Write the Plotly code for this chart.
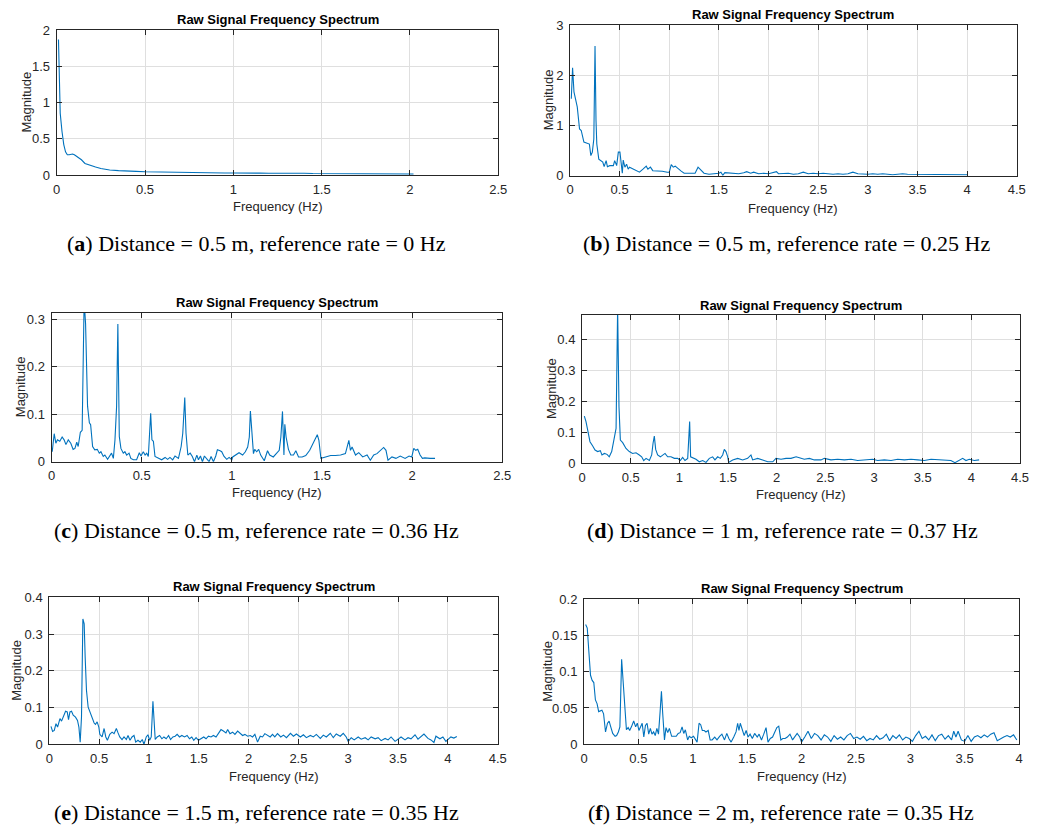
import plotly.graph_objects as go

# ---------------- data ----------------
freq_a = [0.01, 0.015, 0.02, 0.03, 0.04, 0.05, 0.06, 0.07, 0.08, 0.09, 0.10, 0.12, 0.14, 0.16, 0.18,
          0.20, 0.22, 0.25, 0.28, 0.30, 0.35, 0.40, 0.45, 0.50, 0.55, 0.60, 0.65, 0.70, 0.75, 0.80,
          0.85, 0.90, 0.95, 1.00, 1.05, 1.10, 1.15, 1.20, 1.25, 1.30, 1.35, 1.40, 1.45, 1.50, 1.55,
          1.60, 1.65, 1.70, 1.75, 1.80, 1.85, 1.90, 1.95, 2.00, 2.02]
mag_a = [1.87, 1.20, 0.85, 0.60, 0.42, 0.32, 0.28, 0.28, 0.29, 0.29, 0.28, 0.25, 0.21, 0.16, 0.14,
         0.13, 0.11, 0.09, 0.075, 0.07, 0.06, 0.05, 0.05, 0.045, 0.042, 0.04, 0.038, 0.035, 0.033, 0.03,
         0.031, 0.03, 0.027, 0.028, 0.03, 0.03, 0.026, 0.025, 0.027, 0.024, 0.022, 0.025, 0.02, 0.02, 0.022,
         0.02, 0.019, 0.018, 0.02, 0.018, 0.017, 0.016, 0.017, 0.015, 0.014]

freq_b = [0.013, 0.026, 0.04, 0.073, 0.096, 0.113, 0.14, 0.17, 0.195, 0.21, 0.225, 0.24, 0.252, 0.262,
          0.27, 0.29, 0.31, 0.33, 0.344, 0.364, 0.377, 0.40, 0.437, 0.45, 0.47, 0.487, 0.503, 0.52,
          0.527, 0.536, 0.553, 0.57, 0.586, 0.60, 0.636, 0.67, 0.70, 0.735, 0.768, 0.785, 0.81, 0.834,
          0.884, 0.93, 0.98, 1.0, 1.02, 1.04, 1.06, 1.08, 1.12, 1.15, 1.20, 1.26, 1.29, 1.31, 1.35,
          1.40, 1.50, 1.52, 1.54, 1.56, 1.60, 1.65, 1.70, 1.75, 1.78, 1.82, 1.85, 1.90, 1.95, 2.00,
          2.05, 2.08, 2.10, 2.15, 2.20, 2.25, 2.30, 2.35, 2.40, 2.45, 2.50, 2.55, 2.60, 2.65, 2.70,
          2.75, 2.80, 2.85, 2.90, 2.95, 3.00, 3.05, 3.10, 3.15, 3.20, 3.25, 3.30, 3.35, 3.40, 3.45,
          3.50, 3.55, 3.60, 3.65, 3.70, 3.75, 3.80, 3.85, 3.90, 3.95, 4.00]
mag_b = [1.53, 2.15, 1.67, 1.37, 0.93, 0.90, 0.67, 0.65, 0.63, 0.40, 0.47, 0.73, 2.58, 1.10,
         0.63, 0.33, 0.30, 0.27, 0.18, 0.30, 0.18, 0.20, 0.20, 0.30, 0.20, 0.47, 0.47, 0.17,
         0.05, 0.31, 0.17, 0.23, 0.13, 0.17, 0.13, 0.10, 0.07, 0.13, 0.19, 0.13, 0.17, 0.10,
         0.10, 0.09, 0.07, 0.07, 0.22, 0.17, 0.19, 0.15, 0.09, 0.05, 0.05, 0.05, 0.17, 0.13, 0.05,
         0.03, 0.05, 0.07, 0.01, 0.06, 0.05, 0.05, 0.04, 0.06, 0.08, 0.05, 0.07, 0.04, 0.05, 0.04,
         0.06, 0.08, 0.04, 0.05, 0.05, 0.03, 0.04, 0.07, 0.04, 0.05, 0.04, 0.05, 0.04, 0.03, 0.04,
         0.03, 0.04, 0.07, 0.04, 0.03, 0.03, 0.04, 0.03, 0.04, 0.03, 0.02, 0.03, 0.04, 0.03, 0.03,
         0.02, 0.03, 0.025, 0.03, 0.025, 0.02, 0.03, 0.02, 0.025, 0.02, 0.02]

freq_c = [0.004, 0.015, 0.024, 0.033, 0.046, 0.059, 0.07, 0.08, 0.093, 0.107, 0.12, 0.13, 0.14, 0.148,
          0.16, 0.17, 0.181, 0.189, 0.20, 0.21, 0.217, 0.228, 0.24, 0.254, 0.265, 0.274, 0.287, 0.296,
          0.311, 0.324, 0.333, 0.343, 0.352, 0.361, 0.368, 0.376, 0.385, 0.398, 0.407, 0.417, 0.43,
          0.44, 0.454, 0.472, 0.487, 0.496, 0.509, 0.519, 0.528, 0.537, 0.543, 0.55, 0.557, 0.565,
          0.574, 0.593, 0.611, 0.63, 0.644, 0.657, 0.672, 0.685, 0.704, 0.719, 0.728, 0.739, 0.746,
          0.756, 0.769, 0.781, 0.793, 0.806, 0.815, 0.826, 0.837, 0.848, 0.861, 0.874, 0.885, 0.898,
          0.911, 0.92, 0.935, 0.944, 0.957, 0.972, 0.985, 1.0, 1.005, 1.024, 1.04, 1.06, 1.075, 1.088,
          1.097, 1.103, 1.11, 1.12, 1.127, 1.138, 1.149, 1.16, 1.18, 1.198, 1.21, 1.23, 1.244, 1.263,
          1.272, 1.281, 1.289, 1.294, 1.301, 1.314, 1.327, 1.342, 1.355, 1.37, 1.39, 1.41, 1.432,
          1.456, 1.474, 1.483, 1.494, 1.52, 1.548, 1.575, 1.603, 1.63, 1.64, 1.649, 1.658, 1.667,
          1.686, 1.704, 1.726, 1.75, 1.768, 1.787, 1.805, 1.823, 1.842, 1.855, 1.866, 1.888, 1.91,
          1.934, 1.961, 1.983, 1.998, 2.009, 2.02, 2.031, 2.044, 2.057, 2.07, 2.10, 2.127]
mag_c = [0.021, 0.059, 0.039, 0.046, 0.043, 0.052, 0.046, 0.036, 0.046, 0.039, 0.026, 0.028, 0.041, 0.032,
         0.062, 0.066, 0.34, 0.29, 0.117, 0.082, 0.078, 0.032, 0.025, 0.026, 0.018, 0.021, 0.011, 0.014,
         0.005, 0.014, 0.018, 0.007, 0.046, 0.117, 0.29, 0.053, 0.028, 0.018, 0.021, 0.014, 0.018,
         0.007, 0.004, 0.004, 0.019, 0.012, 0.021, 0.014, 0.018, 0.011, 0.046, 0.102, 0.046, 0.043,
         0.011, 0.007, 0.004, 0.009, 0.005, 0.009, 0.004, 0.012, 0.007, 0.032, 0.06, 0.135, 0.06,
         0.014, 0.018, 0.011, 0.0, 0.014, 0.004, 0.012, 0.0, 0.012, 0.007, 0.0, 0.011, 0.0,
         0.012, 0.025, 0.023, 0.021, 0.011, 0.005, 0.009, 0.004, 0.01, 0.014, 0.019, 0.014, 0.021, 0.031,
         0.052, 0.107, 0.066, 0.017, 0.026, 0.021, 0.026, 0.014, 0.002, 0.023, 0.014, 0.01, 0.016, 0.024,
         0.052, 0.106, 0.014, 0.079, 0.052, 0.026, 0.014, 0.014, 0.023, 0.01, 0.01, 0.013, 0.024,
         0.042, 0.057, 0.045, 0.007, 0.01, 0.013, 0.013, 0.014, 0.017, 0.031, 0.045, 0.024, 0.031,
         0.014, 0.019, 0.01, 0.014, 0.003, 0.014, 0.017, 0.023, 0.03, 0.024, 0.003, 0.01, 0.007,
         0.012, 0.007, 0.012, 0.01, 0.028, 0.024, 0.026, 0.014, 0.007, 0.008, 0.007, 0.007]

freq_d = [0.024, 0.041, 0.058, 0.082, 0.11, 0.134, 0.161, 0.188, 0.205, 0.23, 0.257, 0.28, 0.305, 0.332,
          0.35, 0.366, 0.38, 0.394, 0.418, 0.452, 0.486, 0.52, 0.555, 0.589, 0.613, 0.634, 0.658, 0.692,
          0.716, 0.73, 0.743, 0.757, 0.777, 0.805, 0.829, 0.853, 0.88, 0.914, 0.949, 0.983, 1.01, 1.034,
          1.058, 1.086, 1.096, 1.106, 1.116, 1.137, 1.171, 1.205, 1.24, 1.274, 1.308, 1.342, 1.366,
          1.394, 1.421, 1.445, 1.462, 1.479, 1.497, 1.507, 1.548, 1.60, 1.651, 1.702, 1.736, 1.753,
          1.805, 1.856, 1.908, 1.96, 1.993, 2.045, 2.096, 2.147, 2.20, 2.233, 2.284, 2.336, 2.387,
          2.455, 2.49, 2.558, 2.627, 2.695, 2.764, 2.832, 2.90, 2.986, 3.038, 3.106, 3.175, 3.243,
          3.312, 3.38, 3.449, 3.517, 3.586, 3.654, 3.723, 3.79, 3.832, 3.877, 3.911, 3.945, 3.979,
          4.03, 4.08]
mag_d = [0.152, 0.134, 0.107, 0.069, 0.055, 0.042, 0.037, 0.04, 0.026, 0.031, 0.028, 0.02, 0.037, 0.08,
         0.112, 0.50, 0.182, 0.074, 0.066, 0.047, 0.037, 0.031, 0.033, 0.026, 0.02, 0.008, 0.015, 0.008,
         0.026, 0.064, 0.087, 0.044, 0.026, 0.02, 0.026, 0.031, 0.02, 0.02, 0.015, 0.015, 0.008, 0.018,
         0.008, 0.015, 0.074, 0.134, 0.02, 0.017, 0.012, 0.004, 0.008, 0.002, 0.015, 0.02, 0.01,
         0.02, 0.015, 0.026, 0.044, 0.037, 0.02, 0.002, 0.01, 0.015, 0.01, 0.015, 0.026, 0.01,
         0.015, 0.01, 0.004, 0.004, 0.015, 0.012, 0.015, 0.015, 0.02, 0.017, 0.012, 0.015, 0.01,
         0.01, 0.015, 0.01, 0.012, 0.01, 0.012, 0.008, 0.01, 0.012, 0.008, 0.01, 0.008, 0.012,
         0.01, 0.012, 0.01, 0.008, 0.012, 0.01, 0.008, 0.008, 0.001, 0.01, 0.015, 0.008, 0.012,
         0.008, 0.01]

freq_e = [0.017, 0.033, 0.05, 0.067, 0.083, 0.107, 0.123, 0.14, 0.163, 0.18, 0.193, 0.207, 0.223, 0.24,
          0.263, 0.283, 0.297, 0.31, 0.323, 0.337, 0.35, 0.36, 0.373, 0.39, 0.413, 0.433, 0.45, 0.463,
          0.48, 0.497, 0.507, 0.53, 0.55, 0.567, 0.583, 0.607, 0.63, 0.65, 0.673, 0.69, 0.707, 0.73,
          0.75, 0.773, 0.79, 0.81, 0.83, 0.85, 0.867, 0.89, 0.913, 0.933, 0.95, 0.973, 0.99, 1.007,
          1.023, 1.04, 1.05, 1.063, 1.083, 1.107, 1.13, 1.15, 1.173, 1.197, 1.217, 1.24, 1.263, 1.283,
          1.307, 1.33, 1.357, 1.383, 1.407, 1.43, 1.45, 1.473, 1.497, 1.523, 1.55, 1.573, 1.597, 1.623,
          1.647, 1.673, 1.697, 1.723, 1.747, 1.773, 1.79, 1.813, 1.84, 1.863, 1.89, 1.913, 1.94, 1.963,
          1.99, 2.017, 2.04, 2.063, 2.09, 2.117, 2.14, 2.163, 2.19, 2.217, 2.24, 2.263, 2.29, 2.323,
          2.35, 2.38, 2.42, 2.45, 2.48, 2.52, 2.55, 2.58, 2.62, 2.65, 2.68, 2.72, 2.75, 2.78, 2.82,
          2.85, 2.88, 2.92, 2.95, 2.98, 3.0, 3.03, 3.06, 3.1, 3.13, 3.17, 3.2, 3.23, 3.27, 3.3, 3.33,
          3.37, 3.4, 3.43, 3.47, 3.5, 3.53, 3.57, 3.6, 3.63, 3.67, 3.7, 3.73, 3.76, 3.8, 3.83, 3.86,
          3.88, 3.92, 3.95, 3.98, 4.0, 4.03, 4.06, 4.09]
mag_e = [0.049, 0.035, 0.038, 0.056, 0.047, 0.07, 0.063, 0.076, 0.09, 0.088, 0.067, 0.088, 0.09, 0.079,
         0.074, 0.065, 0.047, 0.006, 0.074, 0.341, 0.328, 0.237, 0.147, 0.101, 0.083, 0.07, 0.058, 0.054,
         0.061, 0.047, 0.027, 0.02, 0.043, 0.02, 0.011, 0.027, 0.033, 0.029, 0.043, 0.031, 0.02, 0.013,
         0.02, 0.013, 0.024, 0.011, 0.02, 0.024, 0.006, 0.011, 0.006, 0.013, 0.0, 0.02, 0.026, 0.011,
         0.02, 0.117, 0.056, 0.013, 0.02, 0.024, 0.015, 0.02, 0.015, 0.024, 0.013, 0.02, 0.022, 0.027,
         0.02, 0.024, 0.02, 0.024, 0.015, 0.02, 0.011, 0.018, 0.011, 0.015, 0.02, 0.015, 0.022, 0.02,
         0.024, 0.02, 0.029, 0.04, 0.036, 0.031, 0.04, 0.029, 0.033, 0.027, 0.036, 0.031, 0.024, 0.027,
         0.022, 0.024, 0.02, 0.027, 0.006, 0.022, 0.02, 0.029, 0.024, 0.02, 0.027, 0.02, 0.029, 0.02,
         0.025, 0.018, 0.03, 0.022, 0.028, 0.02, 0.026, 0.018, 0.024, 0.02, 0.027, 0.016, 0.025, 0.02, 0.03,
         0.018, 0.028, 0.022, 0.03, 0.02, 0.008, 0.018, 0.012, 0.02, 0.014, 0.018, 0.012, 0.02, 0.015, 0.018, 0.01,
         0.016, 0.012, 0.02, 0.008, 0.015, 0.02, 0.012, 0.018, 0.015, 0.026, 0.014, 0.02, 0.028, 0.016, 0.012, 0.005,
         0.022, 0.015, 0.02, 0.008, 0.012, 0.02, 0.017, 0.021]

freq_f = [0.015, 0.03, 0.045, 0.06, 0.075, 0.09, 0.105, 0.12, 0.135, 0.15, 0.165, 0.18, 0.198, 0.216,
          0.231, 0.246, 0.264, 0.286, 0.30, 0.316, 0.33, 0.346, 0.36, 0.376, 0.39, 0.406, 0.42, 0.436,
          0.457, 0.475, 0.49, 0.505, 0.52, 0.535, 0.55, 0.565, 0.58, 0.595, 0.61, 0.625, 0.64, 0.655,
          0.67, 0.685, 0.70, 0.712, 0.724, 0.74, 0.754, 0.77, 0.785, 0.806, 0.827, 0.848, 0.866, 0.884,
          0.902, 0.917, 0.932, 0.953, 0.968, 0.986, 1.007, 1.022, 1.04, 1.058, 1.073, 1.088, 1.106,
          1.121, 1.142, 1.16, 1.178, 1.202, 1.223, 1.247, 1.268, 1.292, 1.313, 1.332, 1.353, 1.377,
          1.398, 1.413, 1.425, 1.437, 1.458, 1.473, 1.491, 1.509, 1.527, 1.548, 1.569, 1.593, 1.61,
          1.632, 1.653, 1.674, 1.692, 1.713, 1.734, 1.755, 1.773, 1.791, 1.81, 1.828, 1.849, 1.87,
          1.894, 1.918, 1.94, 1.96, 1.984, 2.0, 2.03, 2.06, 2.09, 2.12, 2.15, 2.18, 2.21, 2.24, 2.27,
          2.3, 2.33, 2.36, 2.39, 2.42, 2.45, 2.48, 2.51, 2.54, 2.57, 2.6, 2.63, 2.66, 2.69, 2.72, 2.75,
          2.78, 2.81, 2.84, 2.87, 2.9, 2.93, 2.96, 2.99, 3.02, 3.05, 3.08, 3.11, 3.14, 3.17, 3.2, 3.23,
          3.26, 3.29, 3.32, 3.35, 3.38, 3.4, 3.42, 3.44, 3.47, 3.5, 3.53, 3.56, 3.59, 3.62, 3.65, 3.68,
          3.71, 3.74, 3.77, 3.8, 3.83, 3.86, 3.89, 3.92, 3.95, 3.98]
mag_f = [0.165, 0.16, 0.127, 0.095, 0.088, 0.085, 0.061, 0.056, 0.045, 0.046, 0.047, 0.042, 0.017, 0.029,
         0.032, 0.024, 0.015, 0.011, 0.012, 0.017, 0.024, 0.117, 0.088, 0.052, 0.02, 0.023, 0.019, 0.024,
         0.032, 0.024, 0.029, 0.019, 0.023, 0.029, 0.01, 0.026, 0.029, 0.014, 0.022, 0.014, 0.017, 0.012,
         0.022, 0.014, 0.045, 0.073, 0.042, 0.006, 0.023, 0.016, 0.022, 0.011, 0.011, 0.011, 0.015, 0.016,
         0.024, 0.015, 0.02, 0.006, 0.011, 0.009, 0.011, 0.008, 0.003, 0.029, 0.027, 0.019, 0.019,
         0.017, 0.019, 0.006, 0.006, 0.01, 0.006, 0.011, 0.014, 0.006, 0.015, 0.008, 0.003, 0.01,
         0.017, 0.029, 0.019, 0.029, 0.017, 0.012, 0.019, 0.01, 0.014, 0.008, 0.015, 0.01, 0.014,
         0.006, 0.014, 0.023, 0.003, 0.008, 0.01, 0.017, 0.023, 0.025, 0.006, 0.008, 0.008, 0.01,
         0.014, 0.006, 0.01, 0.015, 0.01, 0.003, 0.01, 0.018, 0.008, 0.015, 0.012, 0.006, 0.013, 0.01, 0.004,
         0.012, 0.007, 0.01, 0.006, 0.012, 0.015, 0.008, 0.01, 0.007, 0.011, 0.005, 0.008, 0.006, 0.012, 0.007, 0.009,
         0.014, 0.005, 0.012, 0.008, 0.013, 0.006, 0.01, 0.008, 0.004, 0.012, 0.018, 0.008, 0.011, 0.006, 0.013, 0.005,
         0.012, 0.014, 0.007, 0.012, 0.006, 0.018, 0.01, 0.018, 0.006, 0.004, 0.012, 0.004, 0.01, 0.012, 0.009, 0.013,
         0.01, 0.014, 0.016, 0.005, 0.008, 0.01, 0.012, 0.01, 0.013, 0.006]

panel_titles = ["Raw Signal Frequency Spectrum"] * 6
x_label = "Frequency (Hz)"
y_label = "Magnitude"
captions = [
    "(<b>a</b>) Distance = 0.5 m, reference rate = 0 Hz",
    "(<b>b</b>) Distance = 0.5 m, reference rate = 0.25 Hz",
    "(<b>c</b>) Distance = 0.5 m, reference rate = 0.36 Hz",
    "(<b>d</b>) Distance = 1 m, reference rate = 0.37 Hz",
    "(<b>e</b>) Distance = 1.5 m, reference rate = 0.35 Hz",
    "(<b>f</b>) Distance = 2 m, reference rate = 0.35 Hz",
]
x_ranges = [[0, 2.5], [0, 4.5], [0, 2.5], [0, 4.5], [0, 4.5], [0, 4]]
y_ranges = [[0, 2], [0, 3], [0, 0.314], [0, 0.479], [0, 0.4], [0, 0.2]]
y_dticks = [0.5, 1, 0.1, 0.1, 0.1, 0.05]

series = [(freq_a, mag_a), (freq_b, mag_b), (freq_c, mag_c),
          (freq_d, mag_d), (freq_e, mag_e), (freq_f, mag_f)]

# ---------------- layout geometry (page pixels) ----------------
OFF = 8                    # default page margin around the figure
W, H = 1052 - OFF, 825 - OFF


def px(x):
    return (x - OFF) / W


def py(y):
    return 1 - (y - OFF) / H


# plot boxes: left, right, top, bottom
boxes = [
    (56.7, 498.3, 30.0, 175.0),
    (570.0, 1016.7, 25.0, 175.7),
    (51.5, 502.3, 312.7, 461.7),
    (582.0, 1020.0, 315.0, 463.0),
    (49.3, 497.7, 597.3, 744.3),
    (584.0, 1019.0, 599.0, 744.3),
]
title_y = [19, 14, 302, 305, 586, 588]
xlab_y = [207, 209, 492, 494, 776, 776]
ylab_x = [26, 548, 20, 551, 17, 548]
cap_pos = [(257, 243), (786, 243), (256, 530), (782, 530), (256, 812), (781, 812)]

AX = "#262626"
GRID = "#dfdfdf"
LINE = "#0072BD"
SANS = "Liberation Sans, Arial, sans-serif"
SERIF = "Liberation Serif, Times New Roman, serif"

fig = go.Figure()
layout = dict(
    width=W, height=H, margin=dict(l=0, r=0, t=0, b=0, pad=0, autoexpand=False),
    paper_bgcolor="white", plot_bgcolor="white", showlegend=False,
    font=dict(family=SANS, size=13, color=AX),
)
annotations = []

for i, ((fx, my), (l, r, t, b)) in enumerate(zip(series, boxes)):
    n = "" if i == 0 else str(i + 1)
    fig.add_trace(go.Scatter(x=fx, y=my, mode="lines",
                             line=dict(color=LINE, width=1.1),
                             xaxis="x" + n, yaxis="y" + n, hoverinfo="skip"))
    common = dict(showline=True, linecolor=AX, linewidth=1, mirror="ticks",
                  ticks="inside", ticklen=5, tickcolor=AX, tickwidth=1,
                  showgrid=True, gridcolor=GRID, gridwidth=1, zeroline=False,
                  automargin=False,
                  tickfont=dict(family=SANS, size=13, color=AX))
    layout["xaxis" + n] = dict(common, domain=[px(l), px(r)], range=x_ranges[i],
                               dtick=0.5, tick0=0, anchor="y" + n,
                               ticklabelstandoff=2)
    layout["yaxis" + n] = dict(common, domain=[py(b), py(t)], range=y_ranges[i],
                               dtick=y_dticks[i], tick0=0, anchor="x" + n,
                               ticklabelstandoff=3)
    cx = (l + r) / 2
    annotations.append(dict(text="<b>" + panel_titles[i] + "</b>", x=px(cx), y=py(title_y[i]),
                            xref="paper", yref="paper", showarrow=False,
                            xanchor="center", yanchor="middle",
                            font=dict(family=SANS, size=13, color="#000000")))
    annotations.append(dict(text=x_label, x=px(cx), y=py(xlab_y[i]),
                            xref="paper", yref="paper", showarrow=False,
                            xanchor="center", yanchor="middle",
                            font=dict(family=SANS, size=13, color=AX)))
    annotations.append(dict(text=y_label, x=px(ylab_x[i]), y=py((t + b) / 2),
                            xref="paper", yref="paper", showarrow=False, textangle=-90,
                            xanchor="center", yanchor="middle",
                            font=dict(family=SANS, size=13, color=AX)))
    cxp, cyp = cap_pos[i]
    annotations.append(dict(text=captions[i], x=px(cxp), y=py(cyp),
                            xref="paper", yref="paper", showarrow=False,
                            xanchor="center", yanchor="middle",
                            font=dict(family=SERIF, size=22, color="#000000")))

layout["annotations"] = annotations
fig.update_layout(**layout)
fig.write_html("out.html")
